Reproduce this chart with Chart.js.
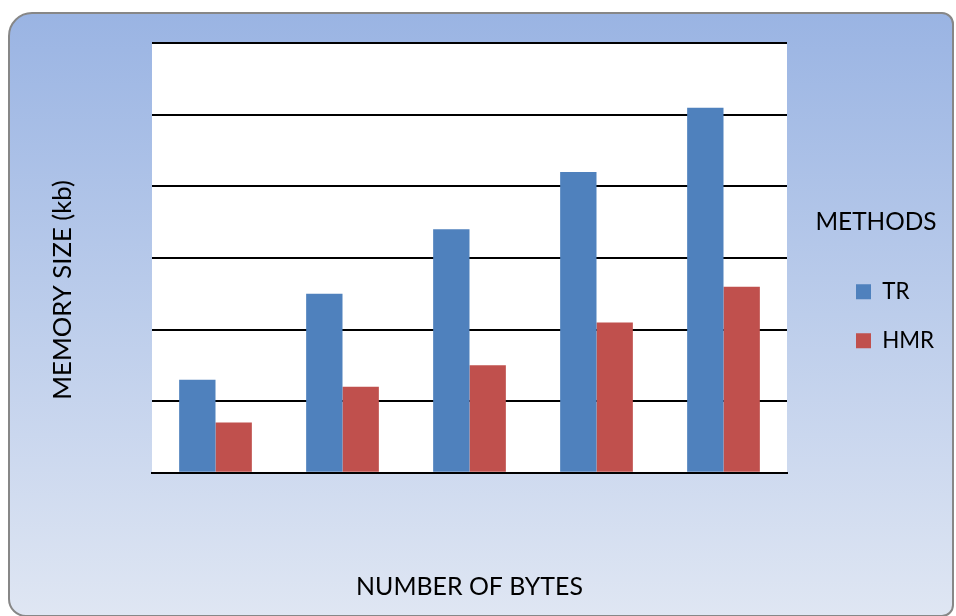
<!DOCTYPE html>
<html>
<head>
<meta charset="utf-8">
<script src="https://cdn.jsdelivr.net/npm/chart.js@4.4.1/dist/chart.umd.min.js"></script>
<style>
  html, body { margin: 0; padding: 0; background: #ffffff; }
  #wrap { position: relative; width: 956px; height: 616px; overflow: hidden; }
  #bg {
    position: absolute; left: 8px; top: 12px; width: 942px; height: 601px;
    border: 2px solid #878787;
    border-radius: 24px 12px 12px 18px;
    background: linear-gradient(to bottom, #9ab4e3 0%, #bccdeb 50%, #dfe6f3 100%);
  }
  #c { position: absolute; left: 0; top: 0; }
</style>
</head>
<body>
<div id="wrap">
  <div id="bg"></div>
  <canvas id="c" width="956" height="616"></canvas>
</div>
<script>
// ---- data ----
const categories = ['1', '2', '3', '4', '5'];
const trValues  = [130, 250, 340, 420, 510];
const hmrValues = [70, 120, 150, 210, 260];
const seriesNames = ['TR', 'HMR'];
const yAxisTitle = 'MEMORY SIZE (kb)';
const xAxisTitle = 'NUMBER OF BYTES';
const legendTitle = 'METHODS';
const yMin = 0, yMax = 600, yStep = 100;

// ---- font sizing: match the reference text widths ----
const FONT = 'Lato';
const mctx = document.createElement('canvas').getContext('2d');
function fitSize(text, width) {
  mctx.font = '100px ' + FONT;
  return Math.round(100 * width / mctx.measureText(text).width * 10) / 10;
}
function textWidth(text, size) {
  mctx.font = size + 'px ' + FONT;
  return mctx.measureText(text).width;
}
const xTitleSize = fitSize(xAxisTitle, 227);
const yTitleSize = fitSize(yAxisTitle, 220);
const legendTitleSize = fitSize(legendTitle, 121);
const labelSize = fitSize(seriesNames[1], 52);

// ---- layout targets (pixels in the 956x616 picture) ----
const plotLeft = 152, plotRight = 787, plotTop = 43.3, plotBottom = 472.7;
const legendItemX = 856, legendFirstBoxTop = 284.3, legendItemStep = 49, legendBox = 15;
const itemHeight = Math.max(labelSize, legendBox);
const legendPad = legendItemStep - itemHeight;
const gapWidth = legendItemX - legendPad - plotRight;
const legendWidth = legendPad + legendBox + labelSize / 2 + textWidth(seriesNames[1], labelSize) + 1;
const padRight = 956 - plotRight - gapWidth - legendWidth;
const firstCursorY = legendFirstBoxTop - Math.max((labelSize - legendBox) / 2, 0);
const legendSpacerH = firstCursorY - plotTop - legendPad;

const plotBackground = {
  id: 'plotBackground',
  beforeDraw(chart) {
    const {ctx, chartArea: a} = chart;
    ctx.save();
    ctx.fillStyle = '#ffffff';
    ctx.fillRect(a.left, a.top, a.right - a.left, a.bottom - a.top);
    ctx.restore();
  }
};

const extraTitles = {
  id: 'extraTitles',
  afterDraw(chart) {
    const ctx = chart.ctx;
    ctx.save();
    ctx.fillStyle = '#000000';
    ctx.textAlign = 'center';
    ctx.textBaseline = 'middle';
    // y-axis title
    ctx.save();
    ctx.translate(63, 290);
    ctx.rotate(-Math.PI / 2);
    ctx.font = yTitleSize + 'px ' + FONT;
    ctx.fillText(yAxisTitle, 0, 0);
    ctx.restore();
    // legend title
    ctx.font = legendTitleSize + 'px ' + FONT;
    ctx.fillText(legendTitle, 876, 222);
    ctx.restore();
  }
};

new Chart(document.getElementById('c'), {
  type: 'bar',
  data: {
    labels: categories,
    datasets: [
      { label: seriesNames[0], data: trValues, backgroundColor: '#4f81bd', borderWidth: 0 },
      { label: seriesNames[1], data: hmrValues, backgroundColor: '#c0504d', borderWidth: 0 }
    ]
  },
  options: {
    responsive: false,
    animation: false,
    devicePixelRatio: 1,
    layout: { padding: { top: plotTop, left: 0, right: padRight, bottom: 0 } },
    datasets: { bar: { categoryPercentage: 0.5725, barPercentage: 1.0 } },
    scales: {
      x: {
        ticks: { display: false },
        grid: { display: false, drawTicks: false },
        border: { display: true, color: '#000000', width: 2 },
        title: {
          display: true, text: xAxisTitle, color: '#000000',
          font: { family: FONT, size: xTitleSize },
          padding: { top: 4, bottom: 14 }
        },
        afterFit(s) { s.height = 616 - plotBottom; }
      },
      y: {
        min: yMin, max: yMax,
        ticks: { display: false, stepSize: yStep },
        grid: { color: '#000000', lineWidth: 2, drawTicks: false },
        border: { display: false },
        afterFit(s) { s.width = plotLeft; }
      },
      legendGap: {
        type: 'linear', position: 'right', display: true,
        ticks: { display: false },
        grid: { display: false, drawTicks: false },
        border: { display: false },
        afterFit(s) { s.width = gapWidth; }
      }
    },
    plugins: {
      tooltip: { enabled: false },
      legend: {
        position: 'right',
        align: 'start',
        maxWidth: legendWidth,
        title: {
          display: true, text: '',
          font: { family: FONT, size: 10, lineHeight: 1 },
          padding: { top: legendSpacerH - 10, bottom: 0 }
        },
        labels: {
          color: '#000000',
          font: { family: FONT, size: labelSize },
          boxWidth: legendBox, boxHeight: legendBox,
          padding: legendPad
        }
      }
    }
  },
  plugins: [plotBackground, extraTitles]
});
</script>
</body>
</html>
